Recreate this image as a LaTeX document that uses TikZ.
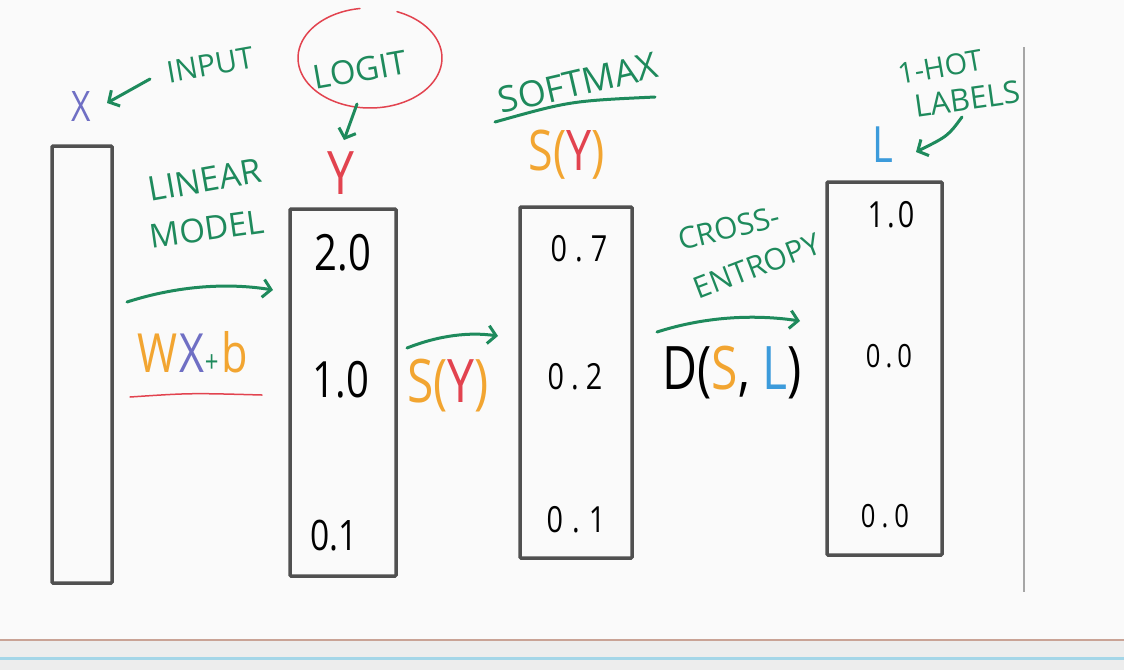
\documentclass[tikz,border=0pt]{standalone}
\usepackage{fontspec}
\setmainfont{Open Sans}
\newfontfamily\narrow{Open Sans}[FakeStretch=0.8]
\usetikzlibrary{arrows.meta}
\definecolor{pgreen}{HTML}{1E8A5C}
\definecolor{porange}{HTML}{F2A531}
\definecolor{ppurple}{HTML}{6F6FC4}
\definecolor{pred}{HTML}{E2434F}
\definecolor{pblue}{HTML}{3C9BDB}
\definecolor{pbox}{HTML}{505050}
\definecolor{pbg}{HTML}{FAFAFA}
\definecolor{pbrown}{HTML}{C9A396}
\definecolor{plblue}{HTML}{A4D6E8}
\newcommand{\fs}[1]{\fontsize{#1}{#1}\selectfont}
\newcommand{\nfs}[1]{\narrow\fontsize{#1}{#1}\selectfont}
\begin{document}
\begin{tikzpicture}[x=1pt,y=-1pt,
  colbox/.style={draw=pbox, line width=3.5pt, inner sep=0pt, rounded corners=1pt},
  val/.style={inner sep=0pt, text=black},
  sym/.style={inner sep=0pt},
  gtext/.style={inner sep=0pt, text=pgreen},
  gline/.style={draw=pgreen, line width=3pt, line cap=round},
  garrow/.style={gline, -{Straight Barb[length=8pt,width=18pt]}}]
\useasboundingbox (0,0) rectangle (1124,670);
\fill[pbg] (0,0) rectangle (1124,640);
\fill[white!93!black] (0,640) rectangle (1124,670);
\draw[pbrown, line width=1.5pt] (0,640) -- (1124,640);
\draw[plblue, line width=3pt] (0,658) -- (1124,658);
\draw[gray!70, line width=1.5pt] (1024,47) -- (1024,592);

% boxes
\node[colbox, minimum width=60pt, minimum height=437pt] (bx) at (82,364.5) {};
\node[colbox, minimum width=106pt, minimum height=367pt] (by) at (343,392.5) {};
\node[colbox, minimum width=112pt, minimum height=351pt] (bs) at (576,382.5) {};
\node[colbox, minimum width=115pt, minimum height=373pt] (bl) at (884.5,368.5) {};

% values
\node[val, font=\nfs{50}] (y1) at (343,253) {2.0};
\node[val, font=\nfs{50}] (y2) at (341,380) {1.0};
\node[val, font=\nfs{42}] (y3) at (334,536) {0.1};
\node[val, font=\nfs{36}] (s1) at (579,249) {0\kern8pt.\kern8pt7};
\node[val, font=\nfs{36}] (s2) at (575,377) {0\kern7pt.\kern7pt2};
\node[val, font=\nfs{36}] (s3) at (576,520) {0\kern9pt.\kern9pt1};
\node[val, font=\nfs{36}] (l1) at (891,215) {1\kern3pt.\kern3pt0};
\node[val, font=\nfs{32}] (l2) at (889,356) {0\kern5pt.\kern5pt0};
\node[val, font=\nfs{32}] (l3) at (885,516) {0\kern6pt.\kern6pt0};

% symbols
\node[sym, text=ppurple, font=\nfs{42}] (xl) at (81,107) {X};
\node[sym, text=pred, font=\nfs{60}] (yl) at (341,173) {Y};
\node[sym, font=\nfs{56}] (syt) at (567,155) {\textcolor{porange}{S(}\textcolor{pred}{Y}\textcolor{porange}{)}};
\node[sym, text=pblue, font=\nfs{50}] (ll) at (883,145) {L};
\node[sym, font=\nfs{54}] (wx) at (193,352) {\textcolor{porange}{W}\kern2pt\textcolor{ppurple}{X}\textcolor{pgreen}{\nfs{30}+}\kern3pt\textcolor{porange}{b}};
\node[sym, font=\nfs{60}] (sym) at (448,386) {\textcolor{porange}{S(}\textcolor{pred}{Y}\textcolor{porange}{)}};
\node[sym, font=\nfs{60}] (dsl) at (732,373) {D(\textcolor{porange}{S}, \textcolor{pblue}{L})};

% green labels
\node[gtext, font=\fs{30}, rotate=10] (inp) at (210,65) {INPUT};
\node[gtext, font=\fs{33}, rotate=10] (logit) at (360,70) {LOGIT};
\node[gtext, font=\fs{34}, rotate=10] (lin) at (205,180) {LINEAR};
\node[gtext, font=\fs{33}, rotate=8] (mod) at (207,229) {MODEL};
\node[gtext, font=\fs{36}, rotate=13] (soft) at (578,83) {SOFTMAX};
\node[gtext, font=\fs{30}, rotate=14] (cr) at (729,228) {CROSS-};
\node[gtext, font=\fs{30}, rotate=21] (ent) at (757,266) {ENTROPY};
\node[gtext, font=\fs{29}, rotate=10] (hot1) at (940,67) {1-HOT};
\node[gtext, font=\fs{31}, rotate=8] (hot2) at (967,99) {LABELS};

% logit loop
\draw[pred, line width=1.5pt, line cap=round] plot[domain=262:-68, samples=80, smooth] ({370+72*cos(\x)},{58+50*sin(\x)});

% underlines
\draw[pred, line width=1.5pt, line cap=round] (130,397) .. controls (190,393) .. (262,395);
\draw[gline] (495,122) .. controls (570,101) .. (655,97);

% short arrows
\coordinate (ia) at (150,79);
\coordinate (ib) at (107,103);
\draw[garrow] (ia) -- (ib);
\coordinate (la) at (357,104);
\coordinate (lb) at (344,140);
\draw[garrow] (la) -- (lb);
\coordinate (ha) at (962,117);
\coordinate (hb) at (916,152);
\draw[garrow] (ha) .. controls (948,136) .. (hb);

% flow arrows
\coordinate (a1) at (127,302);
\coordinate (a2) at (273,290);
\draw[garrow] (a1) .. controls (180,285) and (230,283) .. (a2);
\coordinate (b1) at (407,348);
\coordinate (b2) at (498,336);
\draw[garrow] (b1) .. controls (440,335) and (470,332) .. (b2);
\coordinate (c1) at (657,332);
\coordinate (c2) at (800,321);
\draw[garrow] (c1) .. controls (710,315) and (760,315) .. (c2);
\end{tikzpicture}
\end{document}
